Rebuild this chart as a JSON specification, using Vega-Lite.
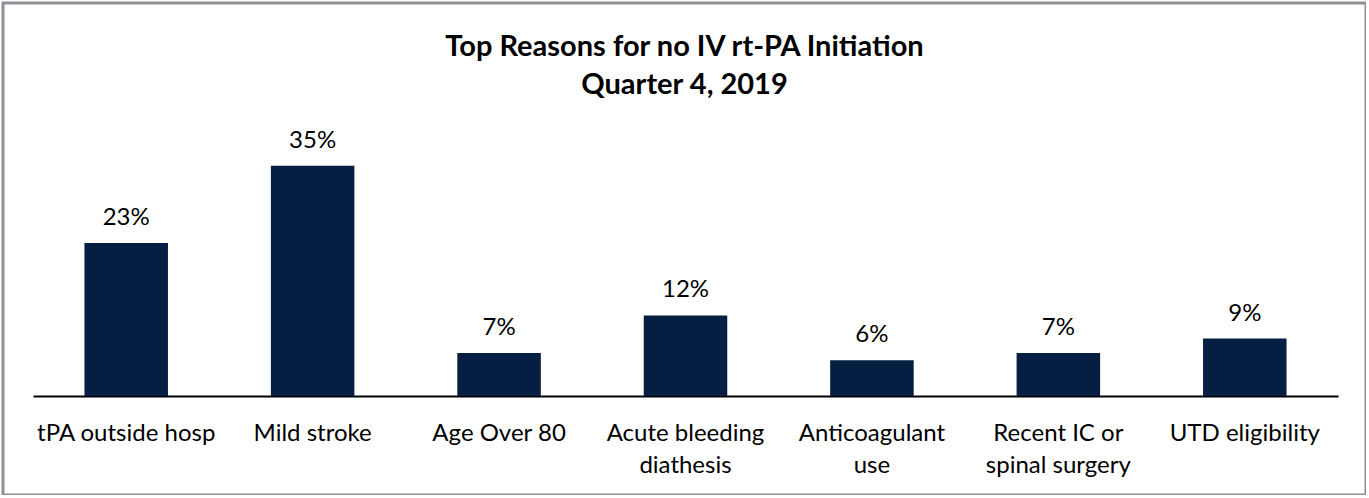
{
  "$schema": "https://vega.github.io/schema/vega-lite/v6.json",
  "autosize": {"type": "none"},
  "padding": {"left": 3, "top": 3, "right": 0, "bottom": 0},
  "width": 1363,
  "height": 492,
  "background": "white",
  "title": {
    "text": ["Top Reasons for no IV rt-PA Initiation", "Quarter 4, 2019"],
    "font": "Lato",
    "fontSize": 29,
    "fontWeight": "bold",
    "color": "black",
    "lineHeight": 38,
    "anchor": "middle",
    "baseline": "top",
    "offset": -97
  },
  "data": {
    "values": [
      {"reason": "tPA outside hosp", "value": 23.2, "label": "23%"},
      {"reason": "Mild stroke", "value": 34.9, "label": "35%"},
      {"reason": "Age Over 80", "value": 6.5, "label": "7%"},
      {"reason": "Acute bleeding|diathesis", "value": 12.2, "label": "12%"},
      {"reason": "Anticoagulant|use", "value": 5.4, "label": "6%"},
      {"reason": "Recent IC or|spinal surgery", "value": 6.5, "label": "7%"},
      {"reason": "UTD eligibility", "value": 8.7, "label": "9%"}
    ]
  },
  "encoding": {
    "x": {
      "field": "reason",
      "type": "nominal",
      "sort": null,
      "scale": {"range": [30, 1335], "paddingInner": 0.552, "paddingOuter": 0.276},
      "axis": {
        "title": null,
        "orient": "bottom",
        "offset": -99,
        "domainColor": "black",
        "domainWidth": 2,
        "ticks": false,
        "labelAngle": 0,
        "labelFont": "Lato",
        "labelFontSize": 24,
        "labelColor": "black",
        "labelLineHeight": 32,
        "labelPadding": 25,
        "labelExpr": "split(datum.label, '|')"
      }
    }
  },
  "layer": [
    {
      "mark": {"type": "bar", "color": "#061e42"},
      "encoding": {
        "y": {
          "field": "value",
          "type": "quantitative",
          "scale": {"domain": [-15, 59.55], "nice": false, "zero": false},
          "axis": null
        },
        "y2": {"datum": 0}
      }
    },
    {
      "mark": {"type": "text", "font": "Lato", "fontSize": 24, "color": "black", "baseline": "bottom", "dy": -13},
      "encoding": {
        "y": {"field": "value", "type": "quantitative"},
        "text": {"field": "label"}
      }
    }
  ],
  "config": {
    "view": {"stroke": "#8d9095", "strokeWidth": 3}
  }
}
